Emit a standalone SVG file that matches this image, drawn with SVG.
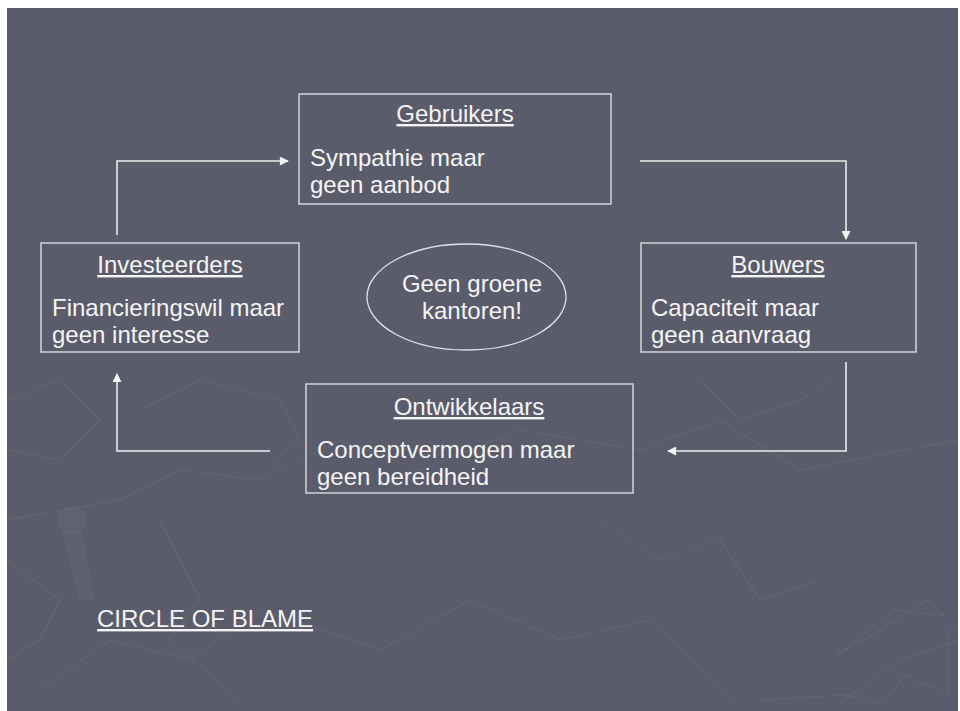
<svg xmlns="http://www.w3.org/2000/svg" width="960" height="711" viewBox="0 0 960 711">
<defs>
<style>
.bg{fill:#5b5c6b}
.tex{fill:none;stroke:#ffffff;stroke-opacity:0.045;stroke-width:1.5}
.box{fill:none;stroke:#d4d4d8;stroke-width:1.5}
.t{font-family:"Liberation Sans",Arial,sans-serif;font-size:24px;fill:#f4f4f4}
.h{text-anchor:middle;text-decoration:underline}
.c{text-anchor:middle}
.con{fill:none;stroke:#ececec;stroke-width:1.6}
</style>
<marker id="arr" viewBox="0 0 10 10" refX="9" refY="5" markerWidth="10" markerHeight="9" markerUnits="userSpaceOnUse" orient="auto">
<path d="M0,0 L10,5 L0,10 z" fill="#f4f4f4"/>
</marker>
</defs>
<rect x="0" y="0" width="960" height="711" fill="#ffffff"/>
<rect class="bg" x="7" y="8" width="951" height="703"/>
<g id="texture">
<polyline class="tex" points="7,520 120,500 180,470 260,480 340,440 420,470 520,430 640,450 720,420 800,470 958,440"/>
<polyline class="tex" points="40,690 110,640 190,660 260,610 380,650 470,600 560,640 650,620 735,700"/>
<polyline class="tex" points="836,706 900,660 958,640"/>
<polyline class="tex" points="760,700 845,695 883,705 905,675 948,695 948,630 958,625"/>
<polyline class="tex" points="836,656 895,610 945,616 926,600 893,622 836,656"/>
<polyline class="tex" points="7,560 60,600 40,640 7,660"/>
<polyline class="tex" points="160,520 200,600 170,640 240,700"/>
<polyline class="tex" points="140,410 200,380 280,400 300,440 260,470"/>
<polyline class="tex" points="600,520 660,560 720,540 760,600 820,580"/>
<polyline class="tex" points="700,380 740,420 800,400 830,380"/>
<polyline class="tex" points="7,400 60,380 100,420 60,460 7,450"/>
<circle cx="72" cy="520" r="14" fill="#ffffff" fill-opacity="0.04"/>
<polygon points="62,530 82,530 95,600 78,600" fill="#ffffff" fill-opacity="0.03"/>
</g>
<g id="gebruikers">
<rect class="box" x="299" y="94" width="312" height="110"/>
<text class="t h" x="455" y="122">Gebruikers</text>
<text class="t" x="310" y="166">Sympathie maar</text>
<text class="t" x="310" y="193">geen aanbod</text>
</g>
<g id="investeerders">
<rect class="box" x="41" y="243" width="258" height="109"/>
<text class="t h" x="170" y="273">Investeerders</text>
<text class="t" x="52" y="316">Financieringswil maar</text>
<text class="t" x="52" y="343">geen interesse</text>
</g>
<g id="bouwers">
<rect class="box" x="641" y="243" width="275" height="109"/>
<text class="t h" x="778" y="273">Bouwers</text>
<text class="t" x="651" y="316">Capaciteit maar</text>
<text class="t" x="651" y="343">geen aanvraag</text>
</g>
<g id="ontwikkelaars">
<rect class="box" x="306" y="384" width="327" height="109"/>
<text class="t h" x="469" y="415">Ontwikkelaars</text>
<text class="t" x="317" y="458">Conceptvermogen maar</text>
<text class="t" x="317" y="485">geen bereidheid</text>
</g>
<g id="center">
<ellipse cx="466.5" cy="297" rx="99.5" ry="53" fill="none" stroke="#e0e0e4" stroke-width="1.3"/>
<text class="t c" x="472" y="292">Geen groene</text>
<text class="t c" x="472" y="319">kantoren!</text>
</g>
<g id="connectors">
<path class="con" d="M117,235 V161 H288" marker-end="url(#arr)"/>
<path class="con" d="M640,161 H846 V239" marker-end="url(#arr)"/>
<path class="con" d="M846,362 V451 H668" marker-end="url(#arr)"/>
<path class="con" d="M270,451 H117 V374" marker-end="url(#arr)"/>
</g>
<g id="caption">
<text class="t" x="97" y="627" style="text-decoration:underline">CIRCLE OF BLAME</text>
</g>
</svg>
